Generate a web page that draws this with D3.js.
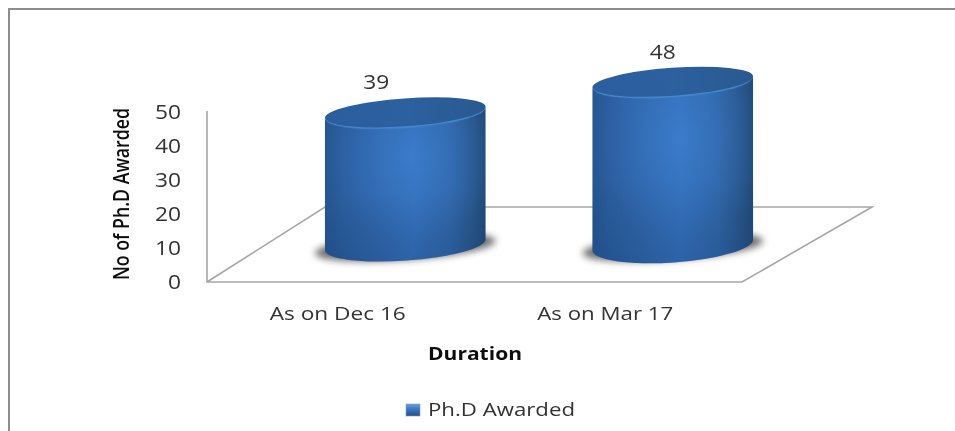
<!DOCTYPE html>
<html><head><meta charset="utf-8">
<style>html,body{margin:0;padding:0;background:#fff}svg{display:block}text{font-family:"Open Sans","Noto Sans",sans-serif;fill:#333}</style>
<script src="https://cdn.jsdelivr.net/npm/d3@7"></script></head>
<body><div id="c"></div>
<script>
const categories = ["As on Dec 16", "As on Mar 17"];
const phdAwarded = [39, 48];
const yTicks = [0, 10, 20, 30, 40, 50];
const seriesName = "Ph.D Awarded";
const xTitle = "Duration";
const yTitle = "No of Ph.D Awarded";

const W = 955, H = 431;
const svg = d3.select("#c").append("svg").attr("width", W).attr("height", H);
const defs = svg.append("defs");
const stops = (g, list) => list.forEach(s => g.append("stop").attr("offset", s[0]).attr("stop-color", s[1]).attr("stop-opacity", s[2] === undefined ? 1 : s[2]));

stops(defs.append("linearGradient").attr("id", "side"),
  [[0,"#25568f"],[.1,"#2a5c9c"],[.3,"#2f65a9"],[.55,"#3470ba"],[.78,"#2f65a6"],[.92,"#28558a"],[1,"#214a78"]]);
stops(defs.append("radialGradient").attr("id", "glow").attr("cx", .54).attr("cy", .33).attr("r", .55),
  [[0,"#4084d8",.55],[.6,"#3d7fd0",.22],[1,"#3d7fd0",0]]);
stops(defs.append("linearGradient").attr("id", "fade").attr("x2", 0).attr("y2", 1),
  [[0,"#0f2f5f",0],[.55,"#0f2f5f",0],[1,"#0f2f5f",.2]]);
stops(defs.append("linearGradient").attr("id", "cap").attr("x2", 1).attr("y2", 0),
  [[0,"#2a5e9e"],[.5,"#2c609f"],[1,"#29598f"]]);
stops(defs.append("linearGradient").attr("id", "swatch").attr("x2", 0).attr("y2", 1),
  [[0,"#6f9fd8"],[.35,"#3f7cc6"],[1,"#214f8c"]]);
defs.append("filter").attr("id", "blur").attr("x", "-20%").attr("y", "-60%").attr("width", "140%").attr("height", "220%")
  .append("feGaussianBlur").attr("stdDeviation", 3.5);
defs.append("filter").attr("id", "rimBlur").attr("x", "-5%").attr("y", "-20%").attr("width", "110%").attr("height", "140%")
  .append("feGaussianBlur").attr("stdDeviation", .7);
defs.append("filter").attr("id", "soft").attr("x", "-10%").attr("y", "-10%").attr("width", "120%").attr("height", "120%")
  .append("feGaussianBlur").attr("stdDeviation", .35);

// outer frame: only the top and left edges are visible
svg.append("path").attr("d", `M9 ${H}V9H${W}`).attr("fill", "none").attr("stroke", "#8c8c8c").attr("stroke-width", 2);

const y = d3.scaleLinear().domain([0, 50]).range([282, 112]);
const x = d3.scaleBand().domain(categories).range([207, 742]);

// floor and back edges
svg.append("path").attr("fill", "none").attr("stroke", "#a6a6a6").attr("stroke-width", 1.6)
  .attr("d", `M207 111V282H742L872 207H325L207 282`);

// value axis labels (left axis, no line)
const yAxis = d3.axisLeft(y).tickValues(yTicks).tickSize(0).tickPadding(0);
const gy = svg.append("g").attr("transform", "translate(181,0)").attr("filter", "url(#soft)").call(yAxis);
gy.select(".domain").remove();
gy.selectAll("text").style("font-size", "20px").style("font-family", '"Open Sans",sans-serif')
  .attr("textLength", d => String(d).length * 13).attr("lengthAdjust", "spacingAndGlyphs");

// cylinders
const rx = 80.5, tilt = -4, capRy = 14;
const baseY = 245, baseRy = [15.5, 17.5], shift = 64.5;
const cx = c => x(c) + x.bandwidth() / 2 + shift;
const capY = v => baseY - (y(0) - y(v));

function cylinderPath(c, v, i) {
  const t = tilt * Math.PI / 180;
  const dx = rx * Math.cos(t), dy = rx * Math.sin(t);
  const X = cx(c), ty = capY(v), br = baseRy[i];
  return `M${X-dx} ${ty-dy}L${X-dx} ${baseY-dy}A${rx} ${br} ${tilt} 0 0 ${X+dx} ${baseY+dy}L${X+dx} ${ty+dy}A${rx} ${capRy} ${tilt} 0 1 ${X-dx} ${ty-dy}Z`;
}
const bars = svg.append("g").selectAll("g").data(categories).join("g");
bars.append("ellipse").attr("cx", c => cx(c)).attr("cy", baseY + 2).attr("rx", rx + 10).attr("ry", 13)
  .attr("transform", c => `rotate(${tilt} ${cx(c)} ${baseY + 2})`).attr("fill", "#4a4a4a").attr("opacity", .8).attr("filter", "url(#blur)");
["side", "glow", "fade"].forEach(f =>
  bars.append("path").attr("d", (c, i) => cylinderPath(c, phdAwarded[i], i)).attr("fill", `url(#${f})`));
bars.append("ellipse").attr("cx", c => cx(c)).attr("cy", (c, i) => capY(phdAwarded[i]) + 2)
  .attr("rx", rx - 2).attr("ry", capRy - .5)
  .attr("transform", (c, i) => `rotate(${tilt} ${cx(c)} ${capY(phdAwarded[i]) + 2})`).attr("fill", "#4a86cc").attr("filter", "url(#rimBlur)");
bars.append("ellipse").attr("cx", c => cx(c)).attr("cy", (c, i) => capY(phdAwarded[i]))
  .attr("rx", rx).attr("ry", capRy)
  .attr("transform", (c, i) => `rotate(${tilt} ${cx(c)} ${capY(phdAwarded[i])})`).attr("fill", "url(#cap)");

const texts = svg.append("g").attr("filter", "url(#soft)");

// data labels
texts.append("g").selectAll("text").data(phdAwarded).join("text")
  .attr("x", (v, i) => cx(categories[i]) - 29 + i * 19).attr("y", v => capY(v) - 23)
  .attr("text-anchor", "middle").attr("textLength", 26).attr("lengthAdjust", "spacingAndGlyphs")
  .style("font-size", "20px").text(v => v);

// category labels
texts.append("g").selectAll("text").data(categories).join("text")
  .attr("x", c => x(c) + x.bandwidth() / 2 - 3).attr("y", 320).attr("text-anchor", "middle")
  .attr("textLength", 136).attr("lengthAdjust", "spacingAndGlyphs").style("font-size", "19px").text(c => c);

// axis titles
texts.append("text").attr("x", 475).attr("y", 360).attr("text-anchor", "middle").attr("font-weight", 700)
  .attr("textLength", 94).attr("lengthAdjust", "spacingAndGlyphs").style("font-size", "18px").style("fill", "#111").text(xTitle);
texts.append("text").attr("transform", "translate(129,194) rotate(-90)").attr("text-anchor", "middle").attr("font-weight", 600)
  .attr("textLength", 172).attr("lengthAdjust", "spacingAndGlyphs").style("font-size", "21px").style("fill", "#111").text(yTitle);

// legend
svg.append("rect").attr("x", 406).attr("y", 404).attr("width", 14).attr("height", 12).attr("fill", "url(#swatch)").attr("stroke", "#7d9cc4").attr("stroke-width", .6);
texts.append("text").attr("x", 428).attr("y", 416).attr("textLength", 147).attr("lengthAdjust", "spacingAndGlyphs")
  .style("font-size", "19px").text(seriesName);
</script></body></html>
